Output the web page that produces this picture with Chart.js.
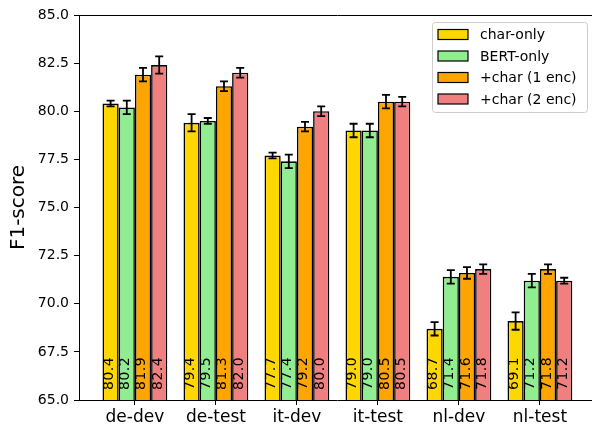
<!DOCTYPE html>
<html>
<head>
<meta charset="utf-8">
<script src="https://cdn.jsdelivr.net/npm/chart.js@4/dist/chart.umd.min.js"></script>
<style>
  html, body { margin: 0; padding: 0; background: #fff; overflow: hidden; }
  #wrap { width: 592px; height: 427px; overflow: hidden; }
</style>
</head>
<body>
<div id="wrap"><canvas id="f1Chart" width="604" height="427"></canvas></div>
<script>
// data
const categories = ['de-dev', 'de-test', 'it-dev', 'it-test', 'nl-dev', 'nl-test'];
const seriesNames = ['char-only', 'BERT-only', '+char (1 enc)', '+char (2 enc)'];
const charOnly = [80.4, 79.4, 77.7, 79.0, 68.7, 69.1];
const bertOnly = [80.2, 79.5, 77.4, 79.0, 71.4, 71.2];
const char1Enc = [81.9, 81.3, 79.2, 80.5, 71.6, 71.8];
const char2Enc = [82.4, 82.0, 80.0, 80.5, 71.8, 71.2];
const charOnlyErr = [0.15, 0.45, 0.15, 0.35, 0.35, 0.45];
const bertOnlyErr = [0.35, 0.15, 0.35, 0.35, 0.35, 0.35];
const char1EncErr = [0.35, 0.25, 0.25, 0.35, 0.3, 0.25];
const char2EncErr = [0.45, 0.25, 0.25, 0.25, 0.25, 0.15];
const yTicks = [65, 67.5, 70, 72.5, 75, 77.5, 80, 82.5, 85];

const colors = ['#FFD700', '#90EE90', '#FFA500', '#F08080'];
const values = [charOnly, bertOnly, char1Enc, char2Enc];
const errors = [charOnlyErr, bertOnlyErr, char1EncErr, char2EncErr];

const FONT = '"DejaVu Sans", sans-serif';

const errorBars = {
    id: 'errorBars',
    afterDatasetsDraw(chart) {
        const ctx = chart.ctx;
        const y = chart.scales.y;
        ctx.save();
        ctx.strokeStyle = '#000';
        ctx.lineWidth = 1.8;
        chart.data.datasets.forEach((ds, di) => {
            const meta = chart.getDatasetMeta(di);
            meta.data.forEach((bar, i) => {
                const v = values[di][i], e = errors[di][i];
                const top = y.getPixelForValue(v + e);
                const bot = y.getPixelForValue(v - e);
                ctx.beginPath();
                ctx.moveTo(bar.x, top); ctx.lineTo(bar.x, bot);
                ctx.moveTo(bar.x - 4, top); ctx.lineTo(bar.x + 4, top);
                ctx.moveTo(bar.x - 4, bot); ctx.lineTo(bar.x + 4, bot);
                ctx.stroke();
            });
        });
        // value labels, rotated, at the foot of each bar
        ctx.fillStyle = '#000';
        ctx.font = '14px ' + FONT;
        ctx.letterSpacing = '0.5px';
        ctx.textAlign = 'left';
        ctx.textBaseline = 'alphabetic';
        const base = y.getPixelForValue(65) - 10;
        chart.data.datasets.forEach((ds, di) => {
            chart.getDatasetMeta(di).data.forEach((bar, i) => {
                ctx.save();
                ctx.translate(bar.x + 2.5, base);
                ctx.rotate(-Math.PI / 2);
                ctx.fillText(values[di][i].toFixed(1), 0, 0);
                ctx.restore();
            });
        });
        ctx.restore();
    }
};

const frameAndLegend = {
    id: 'frameAndLegend',
    afterDraw(chart) {
        const ctx = chart.ctx;
        const a = chart.chartArea;
        ctx.save();
        ctx.strokeStyle = '#000';
        ctx.lineWidth = 1;
        ctx.beginPath();
        ctx.moveTo(a.left, a.top + 0.5); ctx.lineTo(a.right, a.top + 0.5);
        ctx.stroke();

        // legend box, upper right
        const bx = 432.5, by = 22.5, bw = 155, bh = 90;
        ctx.fillStyle = 'rgba(255,255,255,0.8)';
        ctx.strokeStyle = '#cccccc';
        ctx.beginPath();
        ctx.roundRect(bx, by, bw, bh, 3);
        ctx.fill();
        ctx.stroke();
        ctx.font = '14px ' + FONT;
        ctx.textBaseline = 'middle';
        ctx.textAlign = 'left';
        chart.data.datasets.forEach((ds, i) => {
            const cy = 34.5 + i * 21.5;
            ctx.fillStyle = ds.backgroundColor;
            ctx.fillRect(438, cy - 5, 30, 10);
            ctx.strokeStyle = '#000';
            ctx.lineWidth = 1.2;
            ctx.strokeRect(438, cy - 5, 30, 10);
            ctx.fillStyle = '#000';
            ctx.fillText(ds.label, 480, cy + 1);
        });
        ctx.restore();
    }
};

new Chart(document.getElementById('f1Chart'), {
    type: 'bar',
    data: {
        datasets: seriesNames.map((name, di) => ({
            label: name,
            data: values[di].map((v, i) => ({ x: i, y: v })),
            backgroundColor: colors[di],
            borderColor: '#000',
            borderWidth: 1.6,
            categoryPercentage: 0.8,
            barPercentage: 1.0
        }))
    },
    options: {
        responsive: false,
        animation: false,
        devicePixelRatio: 1,
        layout: { padding: { left: 0, top: 15, right: 8.2, bottom: 0 } },
        plugins: { legend: { display: false }, tooltip: { enabled: false } },
        scales: {
            x: {
                type: 'linear',
                offset: false,
                min: -0.69,
                max: 5.69,
                afterBuildTicks: (scale) => { scale.ticks = categories.map((c, i) => ({ value: i })); },
                afterFit: (scale) => { scale.height = 27; },
                ticks: {
                    callback: (v) => categories[v],
                    color: '#000',
                    font: { family: FONT, size: 17 },
                    padding: 2,
                    maxRotation: 0,
                    autoSkip: false
                },
                grid: { offset: false, drawOnChartArea: false, drawTicks: true, tickLength: 5, color: '#000' },
                border: { display: true, color: '#000', width: 1 }
            },
            y: {
                min: 65,
                max: 85,
                afterBuildTicks: (scale) => { scale.ticks = yTicks.map(v => ({ value: v })); },
                afterFit: (scale) => { scale.width = 79; },
                ticks: {
                    callback: (v) => v.toFixed(1),
                    color: '#000',
                    font: { family: FONT, size: 14 },
                    padding: 5
                },
                title: {
                    display: true,
                    text: 'F1-score',
                    color: '#000',
                    font: { family: FONT, size: 20 },
                    padding: { top: 7, bottom: 0 }
                },
                grid: { drawOnChartArea: false, drawTicks: true, tickLength: 5, color: '#000' },
                border: { display: true, color: '#000', width: 1 }
            }
        }
    },
    plugins: [errorBars, frameAndLegend]
});
</script>
</body>
</html>
